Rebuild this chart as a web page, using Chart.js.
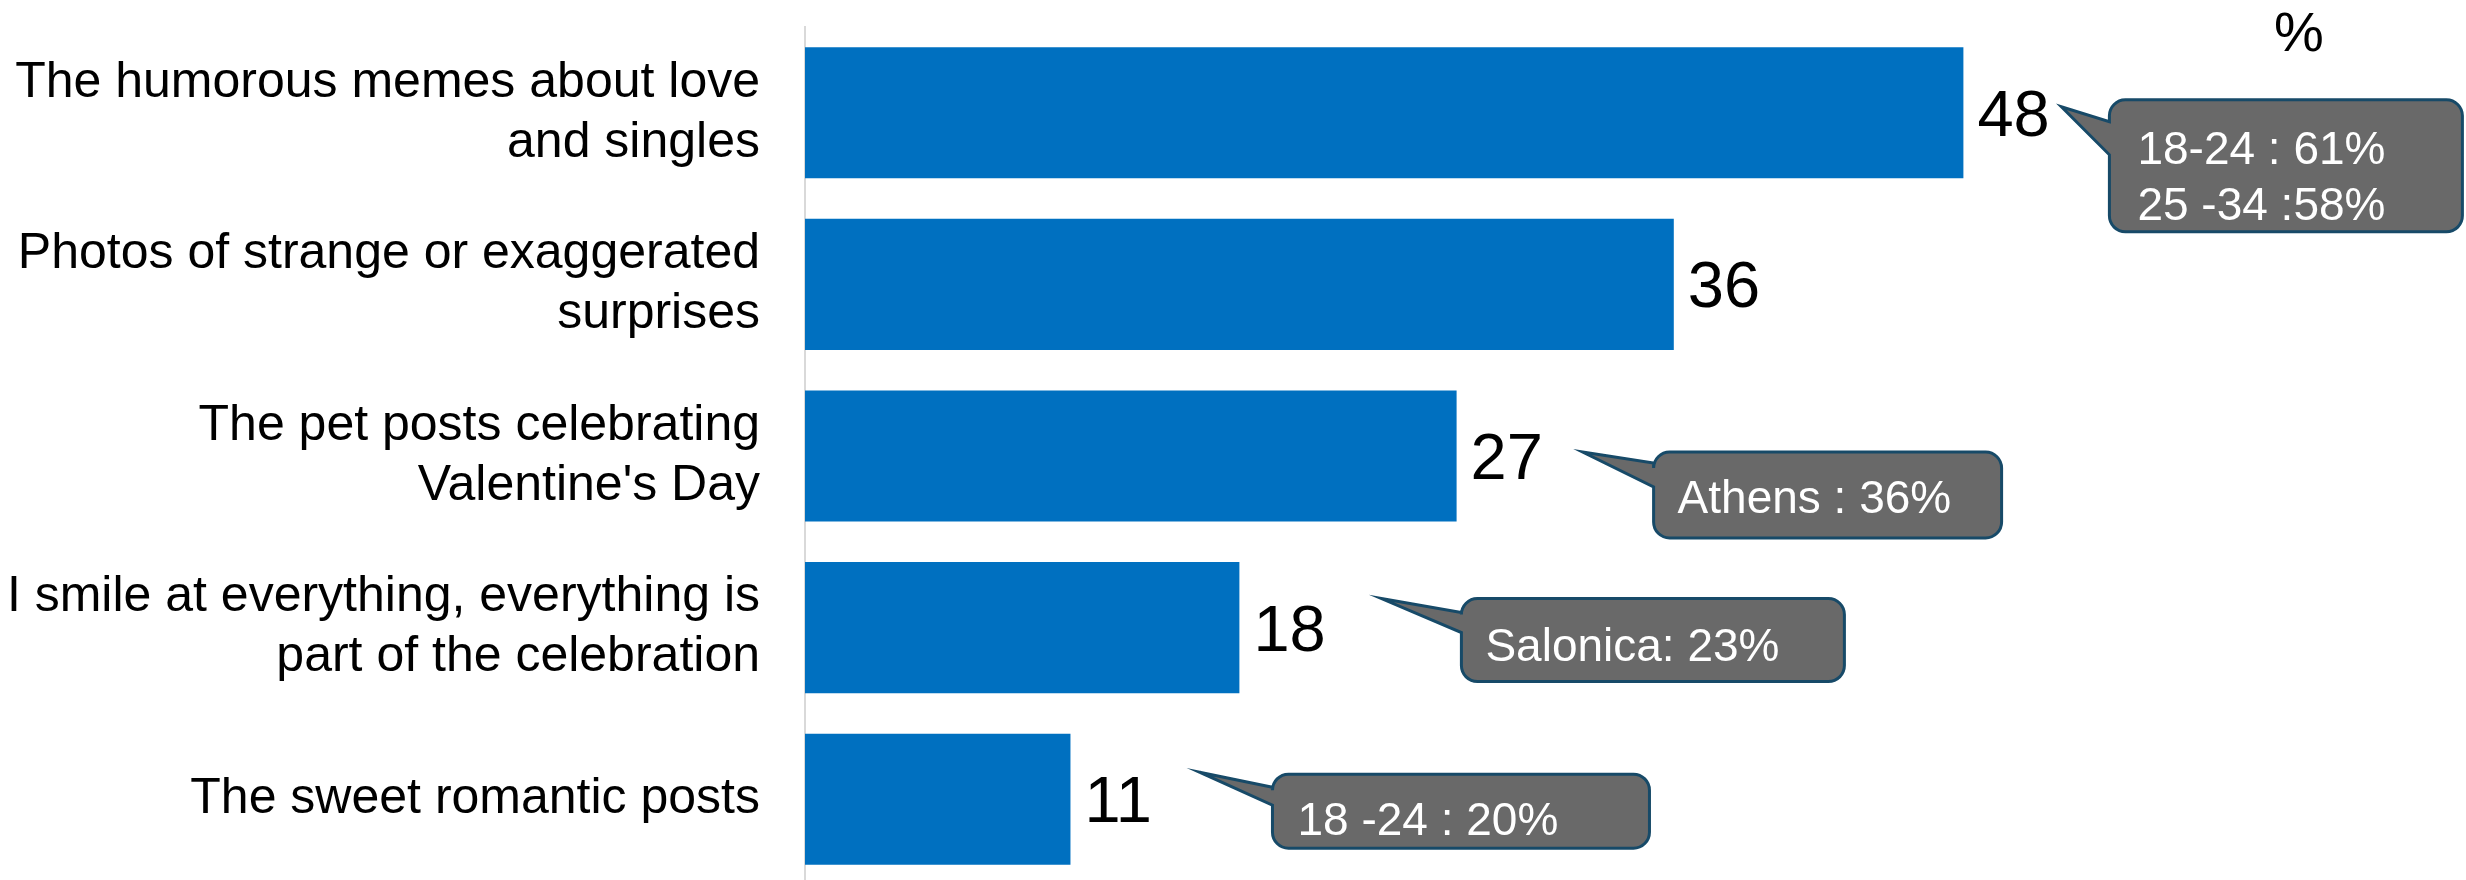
<!DOCTYPE html>
<html>
<head>
<meta charset="utf-8">
<title>Valentine posts</title>
<script src="https://cdn.jsdelivr.net/npm/chart.js@4.4.1/dist/chart.umd.min.js"></script>
<style>
    html, body { margin: 0; padding: 0; background: #fff; overflow: hidden; }
    #wrap { width: 2466px; height: 885px; }
</style>
</head>
<body>
<div id="wrap"><canvas id="postsChart" width="2466" height="885"></canvas></div>
<script>
// chart data
const categories = [
    ['The humorous memes about love', 'and singles'],
    ['Photos of strange or exaggerated', 'surprises'],
    ['The pet posts celebrating', "Valentine's Day"],
    ['I smile at everything, everything is', 'part of the celebration'],
    'The sweet romantic posts'
];
const values = [48, 36, 27, 18, 11];
const unitLabel = '%';

// callout text per bar (null = no callout)
const calloutTexts = [
    ['18-24 : 61%', '25 -34 :58%'],
    null,
    ['Athens : 36%'],
    ['Salonica: 23%'],
    ['18 -24 : 20%']
];

// callout placement, relative to the bar end / bar centre
const calloutLayout = [
    { dx: 98,  dy: -6,  bx: 48, by: -7, w: 353, h: 132, t1: 22, t2: 55, tx: 28, base: 64, lh: 56 },
    null,
    { dx: 126, dy: -4,  bx: 71, by: 0,  w: 348, h: 86,  t1: 11, t2: 35, tx: 24, base: 61, lh: 56 },
    { dx: 142, dy: -29, bx: 80, by: 0,  w: 383, h: 83,  t1: 14, t2: 34, tx: 24, base: 62, lh: 56 },
    { dx: 129, dy: -27, bx: 73, by: 2,  w: 377, h: 74,  t1: 13, t2: 31, tx: 25, base: 61, lh: 56 }
];

const FONT = '"Liberation Sans", Arial, sans-serif';

function drawCallout(ctx, tipX, tipY, c, lines) {
    const x = tipX + c.bx, y = tipY + c.by, r = 16;
    ctx.beginPath();
    ctx.moveTo(x + r, y);
    ctx.lineTo(x + c.w - r, y);
    ctx.arcTo(x + c.w, y, x + c.w, y + r, r);
    ctx.lineTo(x + c.w, y + c.h - r);
    ctx.arcTo(x + c.w, y + c.h, x + c.w - r, y + c.h, r);
    ctx.lineTo(x + r, y + c.h);
    ctx.arcTo(x, y + c.h, x, y + c.h - r, r);
    ctx.lineTo(x, y + c.t2);
    ctx.lineTo(tipX, tipY);
    ctx.lineTo(x, y + c.t1);
    ctx.lineTo(x, y + r);
    ctx.arcTo(x, y, x + r, y, r);
    ctx.closePath();
    ctx.fillStyle = '#696969';
    ctx.fill();
    ctx.lineWidth = 3;
    ctx.strokeStyle = '#174a68';
    ctx.stroke();

    ctx.fillStyle = '#ffffff';
    ctx.font = '46px ' + FONT;
    ctx.textAlign = 'left';
    ctx.textBaseline = 'alphabetic';
    lines.forEach((line, i) => {
        ctx.fillText(line, x + c.tx, y + c.base + i * c.lh);
    });
}

// value labels, callouts and the % sign
const labelsPlugin = {
    id: 'labelsPlugin',
    afterDatasetsDraw(chart) {
        const ctx = chart.ctx;
        const bars = chart.getDatasetMeta(0).data;
        ctx.save();
        bars.forEach((bar, i) => {
            ctx.fillStyle = '#000';
            ctx.font = '65px ' + FONT;
            ctx.textAlign = 'left';
            ctx.textBaseline = 'alphabetic';
            ctx.fillText(String(values[i]), bar.x + 14, bar.y + 23);

            const c = calloutLayout[i];
            if (c && calloutTexts[i]) {
                drawCallout(ctx, bar.x + c.dx, bar.y + c.dy, c, calloutTexts[i]);
            }
        });
        ctx.fillStyle = '#000';
        ctx.font = '56px ' + FONT;
        ctx.textAlign = 'center';
        ctx.fillText(unitLabel, 2299, 51);
        ctx.restore();
    }
};

const ctx = document.getElementById('postsChart').getContext('2d');
new Chart(ctx, {
    type: 'bar',
    data: {
        labels: categories,
        datasets: [{
            data: values,
            backgroundColor: '#0070C0',
            borderWidth: 0,
            categoryPercentage: 0.764,
            barPercentage: 1.0
        }]
    },
    options: {
        indexAxis: 'y',
        responsive: false,
        animation: false,
        layout: { padding: { top: 27, right: 213, bottom: 0, left: 0 } },
        plugins: {
            legend: { display: false },
            tooltip: { enabled: false }
        },
        scales: {
            x: {
                display: false,
                min: 0,
                max: 60
            },
            y: {
                grid: { display: false, drawTicks: false },
                border: { display: true, color: '#d9d9d9', width: 2 },
                ticks: {
                    color: '#000',
                    padding: 45,
                    font: { family: FONT, size: 50, lineHeight: 1.2 }
                },
                afterFit(scale) {
                    // fixed axis width, and no extra room for the tall labels
                    scale.width = 805;
                    scale.paddingTop = 0;
                    scale.paddingBottom = 0;
                }
            }
        }
    },
    plugins: [labelsPlugin]
});
</script>
</body>
</html>
